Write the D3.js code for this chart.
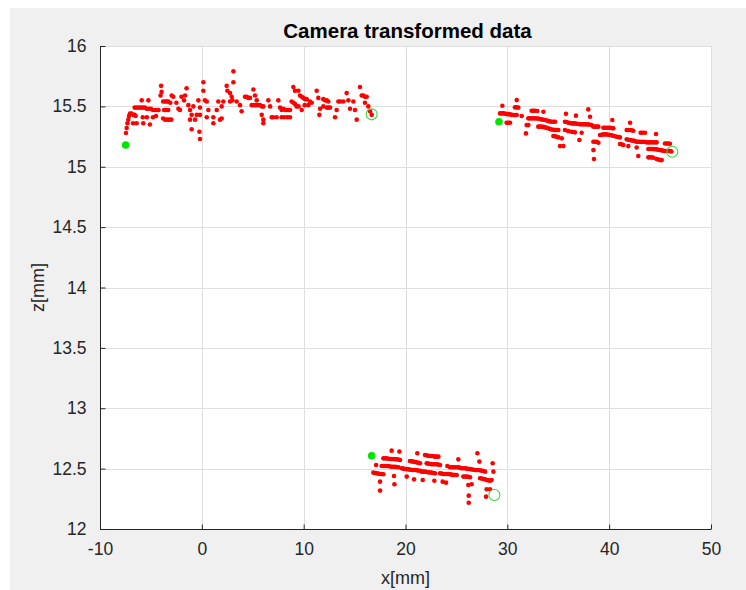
<!DOCTYPE html>
<html>
<head>
<meta charset="utf-8">
<script src="https://cdn.jsdelivr.net/npm/d3@7"></script>
<style>
  html, body { margin: 0; padding: 0; background: #ffffff; }
  svg { display: block; }
  text { font-family: "Liberation Sans", Arial, Helvetica, sans-serif; fill: #262626; }
</style>
</head>
<body>
<script>
// ---------------- DATA ----------------
const titleText = "Camera transformed data";
const xLabel = "x[mm]";
const yLabel = "z[mm]";
const xTicks = [-10, 0, 10, 20, 30, 40, 50];
const yTicks = [12, 12.5, 13, 13.5, 14, 14.5, 15, 15.5, 16];

// Segment 1 (upper left) [x, z]
const seg1 = [
  [-7.45,15.28],[-7.38,15.32],[-7.31,15.36],[-7.22,15.39],[-7.15,15.42],
  [-7.05,15.44],[-6.9,15.44],[-6.75,15.43],[-6.6,15.43],[-6.5,15.42],
  [-6.75,15.36],[-6.4,15.36],[-5.75,15.36],[-5.1,15.35],
  [-6.6,15.49],[-6.4,15.49],[-6.2,15.49],[-6.0,15.49],[-5.8,15.49],[-5.6,15.49],[-5.4,15.48],
  [-5.2,15.48],[-5.0,15.48],[-4.8,15.47],[-4.6,15.47],[-4.4,15.47],[-4.25,15.47],
  [-5.9,15.55],[-5.25,15.55],
  [-5.8,15.41],[-5.4,15.41],[-4.8,15.41],[-4.5,15.42],
  [-4.0,15.67],[-3.95,15.62],[-4.05,15.59],[-3.8,15.54],[-3.6,15.54],[-3.45,15.54],[-3.3,15.54],[-3.1,15.53],
  [-3.7,15.47],[-3.5,15.47],[-3.3,15.47],
  [-3.8,15.40],[-3.6,15.39],[-3.4,15.39],[-3.2,15.39],[-3.0,15.39],
  [-2.96,15.59],[-2.8,15.58],[-2.5,15.53],[-2.3,15.48],[-2.15,15.47],
  [-2.0,15.58],[-1.75,15.55],[-1.65,15.59],[-1.5,15.65],
  [-1.32,15.51],[-1.16,15.47],[-1.0,15.43],[-1.16,15.39],[-1.0,15.31],[-0.67,15.39],[-0.5,15.43],[-0.83,15.50],
  [-0.34,15.55],[-0.18,15.49],[-0.18,15.43],[-0.24,15.29],[-0.18,15.23],[0.15,15.70],[0.15,15.63],
  [0.31,15.55],[0.48,15.54],[0.64,15.47],[0.48,15.41],[1.13,15.41],[1.13,15.36],[1.46,15.47],
  [1.62,15.54],[1.78,15.39],[1.95,15.40],[2.11,15.54],[1.95,15.50],
  [2.44,15.67],[2.51,15.63],[2.77,15.61],[2.93,15.58],[3.10,15.79],[3.10,15.70],[2.77,15.54],[3.0,15.55],
  [3.42,15.54],[3.75,15.51],[3.91,15.46],[4.24,15.58],[4.4,15.58],[4.57,15.57],[4.73,15.57],
  [5.06,15.64],[5.22,15.59],[5.39,15.55],[4.9,15.51],[5.1,15.51],[5.3,15.51],[5.5,15.51],[5.71,15.51],
  [5.9,15.50],[6.04,15.50],[6.53,15.55],[5.88,15.43],[6.04,15.39],[6.04,15.36],[6.7,15.50],[6.86,15.41],
  [7.0,15.41],[7.35,15.41],[7.51,15.55],[7.68,15.49],[7.84,15.47],[8.01,15.48],[8.17,15.47],[8.33,15.47],
  [8.5,15.47],[8.66,15.47],[7.84,15.41],[8.1,15.41],[8.4,15.41],[8.66,15.41],
  [8.99,15.66],[9.15,15.63],[9.48,15.63],[9.64,15.59],[9.81,15.58],[9.97,15.57],[10.14,15.56],[10.3,15.56],
  [8.82,15.54],[9.0,15.53],[9.15,15.52],[9.31,15.50],[9.5,15.50],[9.81,15.47],[10.1,15.51],[10.46,15.51],
  [10.62,15.54],[10.79,15.53],[11.28,15.63],[11.44,15.57],[11.61,15.48],[11.54,15.43],
  [11.93,15.56],[12.1,15.55],[12.26,15.55],[12.42,15.54],[11.93,15.50],[12.26,15.49],[12.42,15.49],[12.59,15.49],
  [13.08,15.41],[13.24,15.47],[13.41,15.54],[13.6,15.54],[13.9,15.54],[14.22,15.61],[14.39,15.55],[14.55,15.48],
  [14.88,15.54],[15.04,15.47],[15.21,15.39],[15.53,15.66],[15.70,15.59],[15.86,15.59],[16.02,15.58],[16.19,15.58],
  [16.02,15.53],[16.35,15.50],[16.52,15.46],[16.68,15.43]
];

// Segment 2 (upper right)
const seg2 = [
  [29.51,15.505],
  [29.28,15.442],[29.45,15.442],[29.61,15.442],[29.77,15.440],[29.93,15.436],[30.10,15.436],[30.26,15.434],
  [30.43,15.430],[30.59,15.428],[30.75,15.428],[30.92,15.428],
  [30.92,15.552],[30.75,15.492],[30.92,15.492],[31.08,15.490],
  [29.93,15.365],[30.10,15.365],[30.26,15.365],
  [31.41,15.420],
  [31.90,15.345],[32.06,15.345],[31.83,15.276],
  [32.39,15.464],[32.55,15.464],[32.72,15.464],[32.95,15.462],
  [32.06,15.401],[32.22,15.401],[32.39,15.401],[32.55,15.401],[32.72,15.401],[32.88,15.400],[33.04,15.399],
  [33.2,15.396],[33.37,15.392],[33.54,15.389],[33.70,15.387],[33.87,15.383],[34.03,15.378],[34.2,15.375],
  [34.35,15.373],[34.52,15.373],[34.68,15.373],
  [33.54,15.456],
  [33.04,15.332],[33.2,15.332],[33.37,15.332],[33.54,15.330],[33.70,15.326],[33.87,15.322],[34.03,15.318],
  [34.2,15.313],[34.35,15.309],[34.52,15.306],[34.68,15.304],[34.84,15.304],[35.01,15.304],
  [34.52,15.254],[34.68,15.252],[34.84,15.249],[35.01,15.243],[35.34,15.235],[35.17,15.171],[35.50,15.171],
  [35.76,15.438],[36.74,15.423],[37.95,15.475],[38.12,15.414],
  [35.66,15.373],[35.83,15.370],[35.99,15.365],[36.15,15.362],[36.32,15.359],[36.48,15.359],[36.64,15.359],
  [36.80,15.356],[36.97,15.354],[37.13,15.352],[37.30,15.351],[37.46,15.351],[37.63,15.351],[37.79,15.351],
  [37.95,15.351],[38.12,15.348],[38.28,15.345],
  [35.66,15.304],[35.99,15.295],[36.32,15.290],[36.48,15.288],[36.64,15.285],[37.30,15.282],
  [37.07,15.221],
  [38.45,15.332],[38.61,15.332],[38.77,15.332],[38.94,15.332],
  [38.45,15.207],[38.61,15.207],[38.77,15.207],[38.94,15.199],
  [38.45,15.138],[38.51,15.064],
  [39.10,15.263],[39.27,15.265],[39.43,15.268],[39.59,15.268],[39.75,15.268],[39.92,15.265],[40.08,15.263],
  [40.24,15.260],[40.41,15.257],[40.57,15.253],[40.74,15.249],[40.90,15.246],[41.06,15.243],
  [39.43,15.323],[39.59,15.323],[39.75,15.323],[39.92,15.323],[40.08,15.323],[40.24,15.320],[40.41,15.318],
  [40.31,15.387],
  [41.06,15.188],[41.22,15.186],[41.39,15.180],
  [41.72,15.304],[41.88,15.304],[42.05,15.304],[42.21,15.302],[42.37,15.298],[42.05,15.365],
  [41.72,15.227],[41.88,15.224],[42.05,15.221],[42.21,15.218],[42.37,15.216],[42.54,15.212],[42.70,15.207],
  [42.86,15.207],[43.03,15.207],[43.19,15.205],[43.36,15.207],[43.52,15.205],[43.68,15.202],[43.85,15.202],
  [44.01,15.202],[44.17,15.202],[44.34,15.202],[44.50,15.202],[44.66,15.202],
  [41.88,15.171],[42.70,15.160],[42.86,15.089],
  [43.09,15.282],[43.25,15.282],[43.52,15.282],
  [44.60,15.271],
  [43.85,15.147],[44.01,15.147],[44.17,15.147],[44.34,15.146],[44.50,15.145],[44.66,15.144],[44.83,15.141],
  [44.99,15.138],[45.16,15.136],[45.32,15.133],[45.48,15.131],[45.65,15.130],[45.81,15.130],[45.97,15.130],[46.1,15.126],
  [43.85,15.078],[44.01,15.078],[44.17,15.078],[44.34,15.074],[44.66,15.064],[44.83,15.060],[44.99,15.055],[45.16,15.055],
  [45.48,15.193],[45.65,15.193],[45.81,15.193],[45.97,15.190]
];

// Segment 3 (lower middle)
const seg3 = [
  [18.64,12.649],[19.40,12.641],
  [17.83,12.585],[17.99,12.585],[18.15,12.585],[18.32,12.582],[18.48,12.580],[18.64,12.580],[18.81,12.580],
  [18.97,12.578],[19.13,12.577],[19.30,12.575],[19.46,12.572],
  [17.11,12.530],[17.66,12.522],[17.83,12.522],[17.99,12.522],[18.15,12.522],[18.32,12.522],[18.48,12.518],
  [18.64,12.516],[18.81,12.516],[18.97,12.516],[19.13,12.514],[19.30,12.511],
  [16.84,12.467],[17.0,12.464],[17.17,12.461],[17.33,12.459],[17.50,12.456],[17.66,12.455],[17.83,12.453],
  [17.50,12.392],[17.50,12.318],[18.87,12.439],[18.91,12.370],
  [19.63,12.503],[19.79,12.500],[19.95,12.497],[20.12,12.496],[20.28,12.494],[20.44,12.492],[20.61,12.489],
  [20.77,12.489],[20.93,12.489],[21.10,12.487],[21.26,12.485],[21.43,12.483],
  [20.44,12.563],[20.61,12.560],[20.77,12.558],[20.93,12.555],[21.10,12.552],[21.26,12.548],[21.43,12.544],
  [21.16,12.627],
  [20.12,12.434],[20.84,12.411],[21.69,12.406],[22.83,12.400],
  [21.92,12.613],[22.08,12.610],[22.24,12.607],[22.41,12.605],[22.57,12.605],[22.74,12.602],[22.90,12.599],
  [23.06,12.599],[23.23,12.599],
  [22.08,12.544],[22.24,12.541],[22.41,12.538],[22.57,12.537],[22.74,12.536],[22.90,12.536],[23.06,12.536],
  [23.23,12.533],[23.39,12.530],
  [21.59,12.475],[21.76,12.475],[21.92,12.475],[22.08,12.472],[22.24,12.469],[22.41,12.468],[22.57,12.467],
  [22.74,12.464],[22.90,12.461],
  [23.39,12.461],[23.56,12.459],[23.72,12.456],[23.88,12.456],[24.04,12.456],[24.21,12.455],[24.37,12.453],
  [24.54,12.450],[24.70,12.447],[24.86,12.447],[25.03,12.447],
  [23.65,12.392],[23.98,12.384],
  [24.11,12.522],[24.37,12.511],[24.54,12.511],[24.70,12.511],[24.86,12.511],[25.03,12.511],[25.19,12.511],
  [25.36,12.506],[25.52,12.503],[25.68,12.503],[25.85,12.503],[26.01,12.500],[26.17,12.497],[26.34,12.496],
  [26.50,12.494],[26.67,12.491],[26.83,12.489],[26.99,12.489],[27.15,12.489],[27.32,12.486],[27.48,12.483],
  [27.65,12.480],[27.81,12.475],
  [25.19,12.577],[27.06,12.627],[27.25,12.558],
  [25.68,12.434],[25.85,12.434],[26.01,12.434],[26.17,12.432],[26.34,12.428],
  [26.17,12.365],[26.50,12.370],
  [26.21,12.276],[26.21,12.218],
  [27.32,12.420],[27.48,12.418],[27.65,12.414],[27.81,12.411],[27.97,12.406],[28.14,12.403],[28.30,12.400],[28.46,12.406],
  [27.97,12.329],[28.30,12.329],
  [28.56,12.544],[28.63,12.475],
  [27.91,12.268]
];

// Start points (filled green) and end points (open green circle)
const startPoints = [[-7.48,15.18],[29.18,15.373],[16.68,12.607]];
const endPoints = [[16.68,15.434],[46.2,15.124],[28.73,12.282]];

// ---------------- CHART ----------------
const W = 746, H = 590;
const svg = d3.select("body").append("svg").attr("width", W).attr("height", H);

// figure background (MATLAB-like gray)
svg.append("rect").attr("x", 10).attr("y", 8).attr("width", W - 10).attr("height", H - 8).attr("fill", "#f0f0f0");

const plot = { left: 100, right: 711, top: 46, bottom: 529 };
const x = d3.scaleLinear().domain([-10, 50]).range([plot.left, plot.right]);
const y = d3.scaleLinear().domain([12, 16]).range([plot.bottom, plot.top]);

// axes area
svg.append("rect").attr("x", plot.left).attr("y", plot.top)
  .attr("width", plot.right - plot.left).attr("height", plot.bottom - plot.top).attr("fill", "#ffffff");

// grid
const grid = svg.append("g").attr("stroke", "#dedede").attr("stroke-width", 1);
grid.selectAll("line.gx").data(xTicks).join("line")
  .attr("x1", d => Math.round(x(d)) + 0.5).attr("x2", d => Math.round(x(d)) + 0.5)
  .attr("y1", plot.top).attr("y2", plot.bottom);
grid.selectAll("line.gy").data(yTicks).join("line")
  .attr("y1", d => Math.round(y(d)) + 0.5).attr("y2", d => Math.round(y(d)) + 0.5)
  .attr("x1", plot.left).attr("x2", plot.right);

const tickFont = '"Liberation Sans", Arial, Helvetica, sans-serif';

// bottom axis (ticks pointing inward)
const xAxis = d3.axisBottom(x).tickValues(xTicks).tickSize(-5).tickPadding(13).tickFormat(d => String(d));
const gx = svg.append("g").attr("transform", `translate(0,${plot.bottom + 0.5})`).call(xAxis);
gx.select(".domain").attr("stroke", "#262626").attr("d", `M${plot.left},0H${plot.right}`);
gx.selectAll(".tick line").attr("stroke", "#262626");
gx.selectAll(".tick text").attr("font-size", 17.5).attr("fill", "#262626").attr("dy", "0.72em")
  .style("font-family", tickFont);

// left axis
const yAxis = d3.axisLeft(y).tickValues(yTicks).tickSize(-5).tickPadding(14).tickFormat(d => String(d));
const gy = svg.append("g").attr("transform", `translate(${plot.left + 0.5},0)`).call(yAxis);
gy.select(".domain").attr("stroke", "#262626").attr("d", `M0,${plot.top}V${plot.bottom}`);
gy.selectAll(".tick line").attr("stroke", "#262626");
gy.selectAll(".tick text").attr("font-size", 17.5).attr("fill", "#262626")
  .style("font-family", tickFont);

// data points
const pts = svg.append("g");
[seg1, seg2, seg3].forEach(seg => {
  pts.append("g").selectAll("circle").data(seg).join("circle")
    .attr("cx", d => x(d[0])).attr("cy", d => y(d[1])).attr("r", 2.3)
    .attr("fill", "#ff0000");
});
pts.append("g").selectAll("circle").data(startPoints).join("circle")
  .attr("cx", d => x(d[0])).attr("cy", d => y(d[1])).attr("r", 3.8)
  .attr("fill", "#00e600");
pts.append("g").selectAll("circle").data(endPoints).join("circle")
  .attr("cx", d => x(d[0])).attr("cy", d => y(d[1])).attr("r", 5.5)
  .attr("fill", "none").attr("stroke", "#3ed23e").attr("stroke-width", 1.1);

// title and labels
svg.append("text").attr("x", (plot.left + plot.right) / 2 + 2).attr("y", 38)
  .attr("text-anchor", "middle").attr("font-size", 20.5).attr("font-weight", "bold")
  .style("fill", "#000").text(titleText);
svg.append("text").attr("x", (plot.left + plot.right) / 2).attr("y", 584)
  .attr("text-anchor", "middle").attr("font-size", 18).text(xLabel);
svg.append("text").attr("transform", `translate(44,${(plot.top + plot.bottom) / 2}) rotate(-90)`)
  .attr("text-anchor", "middle").attr("font-size", 18).text(yLabel);
</script>
</body>
</html>
